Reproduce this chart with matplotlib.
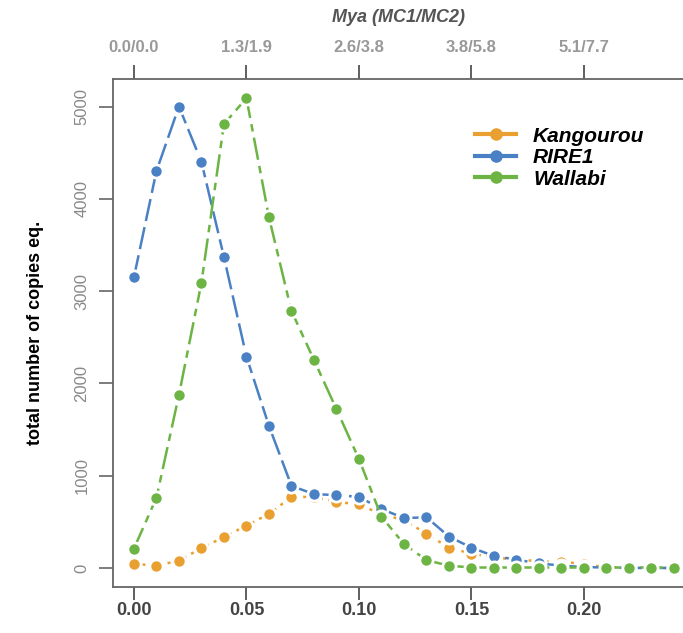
import matplotlib
matplotlib.use("Agg")
import matplotlib.pyplot as plt
from matplotlib.lines import Line2D

# divergence (K) and matching ages (Mya, MC1/MC2)
div = [0.00, 0.01, 0.02, 0.03, 0.04, 0.05, 0.06, 0.07, 0.08, 0.09, 0.10, 0.11, 0.12,
       0.13, 0.14, 0.15, 0.16, 0.17, 0.18, 0.19, 0.20, 0.21, 0.22, 0.23, 0.24]
kangourou = [45, 25, 80, 215, 335, 460, 585, 770, 770, 715, 690, 580, 520,
             370, 220, 155, 115, 90, 75, 70, 40, 10, 5, 0, 0]
rire1 = [3150, 4300, 5000, 4400, 3370, 2290, 1540, 890, 800, 790, 770, 640, 540,
         550, 340, 220, 130, 90, 50, 25, 10, 5, 0, 0, 0]
wallabi = [210, 760, 1875, 3090, 4810, 5090, 3800, 2785, 2255, 1720, 1180, 555, 260,
           85, 25, 5, 5, 5, 5, 5, 5, 5, 5, 5, 5]

bottom_ticks = [0.00, 0.05, 0.10, 0.15, 0.20]
top_labels = ["0.0/0.0", "1.3/1.9", "2.6/3.8", "3.8/5.8", "5.1/7.7"]
y_ticks = [0, 1000, 2000, 3000, 4000, 5000]

c_kang = "#E9A030"
c_rire = "#4A80C4"
c_wall = "#6CB444"

plt.rcParams["font.family"] = ["Liberation Sans", "DejaVu Sans"]

fig = plt.figure(figsize=(6.83, 6.33), dpi=100)
ax = fig.add_axes([113 / 683, 46 / 633, 570 / 683, 508 / 633])

common = dict(lw=1.8, marker="o", ms=9.5, mec="white", mew=2.0)
ax.plot(div, kangourou, color=c_kang, mfc=c_kang, dashes=(1.2, 2.2), zorder=2, **common)
ax.plot(div, rire1, color=c_rire, mfc=c_rire, dashes=(9, 2.5), zorder=3, **common)
ax.plot(div, wallabi, color=c_wall, mfc=c_wall, dashes=(9, 2.5, 3, 2.5), zorder=4, **common)

ax.set_xlim(-0.0093, 0.244)
ax.set_ylim(-206, 5298)

for s in ["left", "top", "bottom"]:
    ax.spines[s].set_color("#666666")
    ax.spines[s].set_linewidth(1.3)
ax.spines["right"].set_visible(False)

ax.set_xticks(bottom_ticks)
ax.set_xticklabels(["%.2f" % t for t in bottom_ticks], fontsize=13, fontweight="bold", color="#444444")
ax.tick_params(axis="x", direction="out", length=9, width=1.2, color="#444444", pad=2)

ax.set_yticks(y_ticks)
ax.set_yticklabels([str(t) for t in y_ticks], rotation=90, va="center", fontsize=12, color="#888888")
ax.tick_params(axis="y", direction="out", length=10, width=1.2, color="#666666", pad=7)
ax.set_ylabel("total number of copies eq.", fontsize=13, fontweight="bold", labelpad=22)

top = ax.secondary_xaxis("top")
top.set_xticks(bottom_ticks)
top.set_xticklabels(top_labels, fontsize=12, fontweight="bold", color="#999999")
top.tick_params(direction="out", length=10, width=1.2, color="#444444", pad=7)
top.spines["top"].set_visible(False)
top.set_xlabel("Mya (MC1/MC2)", fontsize=13, fontweight="bold", fontstyle="italic", color="#555555", labelpad=13)

handles = [Line2D([], [], color=c, lw=3, marker="o", ms=8, mfc=c, mec=c) for c in (c_kang, c_rire, c_wall)]
leg = fig.legend(handles, ["Kangourou", "RIRE1", "Wallabi"], loc="upper left",
                 bbox_to_anchor=(456 / 683, 1 - 108 / 633), frameon=False,
                 handlelength=2.0, handletextpad=0.8, labelspacing=0.12,
                 prop={"size": 15, "weight": "bold", "style": "italic"})

fig.savefig("out.png", dpi=100)
